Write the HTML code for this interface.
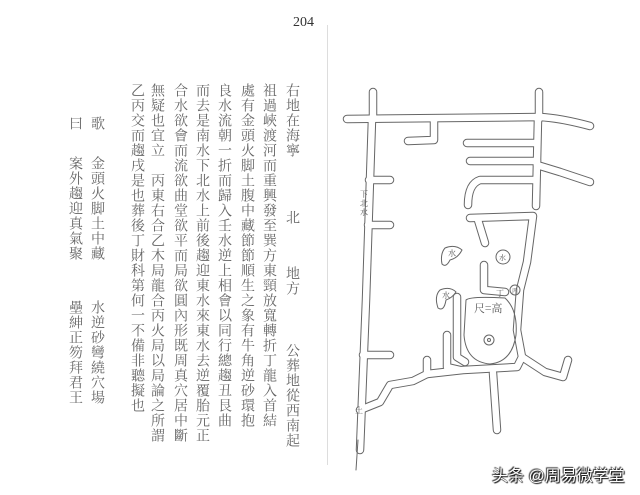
<!DOCTYPE html>
<html><head><meta charset="utf-8"><style>
html,body{margin:0;padding:0;background:#fff;}
body{width:640px;height:495px;position:relative;overflow:hidden;}
.c{position:absolute;writing-mode:vertical-rl;font-family:"Noto Serif CJK SC","Noto Sans CJK TC",serif;font-size:14px;letter-spacing:1px;line-height:16px;color:#666;white-space:nowrap;width:16px;}
.pn{position:absolute;left:293px;top:15px;font-family:"Liberation Serif",serif;font-size:14px;color:#333;}
.wm{position:absolute;left:492px;top:462px;font-family:"Liberation Sans","Noto Sans CJK SC",sans-serif;font-size:16px;color:#fff;white-space:nowrap;text-shadow:0 0 1px #000,1px 1px 1px #000,-1px -1px 1px #333;}
</style></head><body>
<div class="pn">204</div>
<div style="position:absolute;left:327px;top:25px;width:1px;height:440px;background:#ddd"></div>

<div class="c" style="left:285px;top:83px">右地在海寧</div>
<div class="c" style="left:285px;top:210px">北</div>
<div class="c" style="left:285px;top:266px">地方</div>
<div class="c" style="left:285px;top:343px">公葬地從西南起</div>
<div class="c" style="left:262px;top:83px">祖過峽渡河而重興發至巽方東頸放寬轉折丁龍入首結</div>
<div class="c" style="left:240px;top:83px">處有金頭火脚土腹中藏節節順生之象有牛角逆砂環抱</div>
<div class="c" style="left:217px;top:83px">良水流朝一折而歸入壬水逆上相會以同行總趨丑艮曲</div>
<div class="c" style="left:195px;top:83px">而去是南水下北水上前後趨迎東水來東水去逆覆胎元正</div>
<div class="c" style="left:173px;top:83px">合水欲會而流欲曲堂欲平而局欲圓內形既周真穴居中斷</div>
<div class="c" style="left:150px;top:83px">無疑也宜立</div>
<div class="c" style="left:150px;top:173px">丙東右合乙木局龍合丙火局以局論之所謂</div>
<div class="c" style="left:130px;top:83px">乙丙交而趨戌是也葬後丁財科第何一不備非聽擬也</div>
<div class="c" style="left:90px;top:116px">歌</div>
<div class="c" style="left:90px;top:156px">金頭火脚土中藏</div>
<div class="c" style="left:90px;top:300px">水逆砂彎繞穴場</div>
<div class="c" style="left:68px;top:116px">曰</div>
<div class="c" style="left:68px;top:156px">案外趨迎真氣聚</div>
<div class="c" style="left:68px;top:300px">壘紳正笏拜君王</div>

<svg width="640" height="495" style="position:absolute;left:0;top:0" fill="none" stroke-linecap="round" stroke-linejoin="round">
<g stroke="#666" stroke-width="8.5">
<path d="M347 119 L540 117 Q560 118 590 126"/>
<path d="M373 92 L373 119"/><path d="M539 92 L539 119"/>
<path d="M372 119 L366 300 L360 450"/>
<path d="M369 180 L390 180"/><path d="M368 225 L390 225"/><path d="M363 355 L390 355"/>
<path d="M434 120 L434 140 L408 141"/>
<path d="M538 118 L536 206"/>
<path d="M537 143 L467 143"/><path d="M537 161 L470 161"/>
<path d="M536 180 L480 180 Q468 184 468 205"/>
<path d="M537 165 L560 172 L590 182"/>
<path d="M470 218 L533 216 L527 262 L520 290 L517 330 L522 357 L545 372 L563 377 L568 360"/>
<path d="M478 220 L485 243"/>
<path d="M484 265 L484 290 L505 292"/>
<path d="M360 410 L380 402 L390 385 L413 381 L427 374 L427 360"/>
<path d="M427 374 L463 370 L517 367 L522 357"/>
<path d="M493 373 L497 430"/>
<path d="M457 297 L457 357 L465 362"/>
<path d="M447 335 L447 367 L460 370"/>
</g>
<g stroke="#fff" stroke-width="6.5">
<path d="M347 119 L540 117 Q560 118 590 126"/>
<path d="M373 92 L373 119"/><path d="M539 92 L539 119"/>
<path d="M372 119 L366 300 L360 450"/>
<path d="M369 180 L390 180"/><path d="M368 225 L390 225"/><path d="M363 355 L390 355"/>
<path d="M434 120 L434 140 L408 141"/>
<path d="M538 118 L536 206"/>
<path d="M537 143 L467 143"/><path d="M537 161 L470 161"/>
<path d="M536 180 L480 180 Q468 184 468 205"/>
<path d="M537 165 L560 172 L590 182"/>
<path d="M470 218 L533 216 L527 262 L520 290 L517 330 L522 357 L545 372 L563 377 L568 360"/>
<path d="M478 220 L485 243"/>
<path d="M484 265 L484 290 L505 292"/>
<path d="M360 410 L380 402 L390 385 L413 381 L427 374 L427 360"/>
<path d="M427 374 L463 370 L517 367 L522 357"/>
<path d="M493 373 L497 430"/>
<path d="M457 297 L457 357 L465 362"/>
<path d="M447 335 L447 367 L460 370"/>
</g>
<g stroke="#666" stroke-width="1">
<path d="M466 300 Q470 296 505 298 Q518 310 516 335 Q512 362 490 364 Q466 362 464 335 Z"/>
<circle cx="489" cy="340" r="5"/><circle cx="489" cy="340" r="1.5"/>
<circle cx="503" cy="257" r="7"/><circle cx="515" cy="290" r="5"/>
<path d="M445 248 Q455 244 462 250 Q458 258 450 260 Q446 268 442 264 Q440 254 445 248 Z"/>
<path d="M440 290 Q450 286 456 292 Q452 298 446 300 Q444 312 438 308 Q434 296 440 290 Z"/>
<path d="M358 440 L356 470"/>
</g>
<g font-family="Noto Serif CJK SC,serif" fill="#555" stroke="none">
<text x="360" y="197" font-size="8">下</text><text x="360" y="206" font-size="8">北</text><text x="360" y="215" font-size="8">水</text>
<text x="448" y="256" font-size="8">水</text><text x="442" y="298" font-size="8">水</text>
<text x="499" y="260" font-size="7">水</text><text x="512" y="293" font-size="6">丙</text>
<text x="496" y="296" font-size="8">丁</text>
<text x="474" y="312" font-size="11">尺=高</text>
<text x="355" y="413" font-size="8">土</text>
</g>
</svg>
<div class="wm">头条 @周易微学堂</div>
</body></html>
